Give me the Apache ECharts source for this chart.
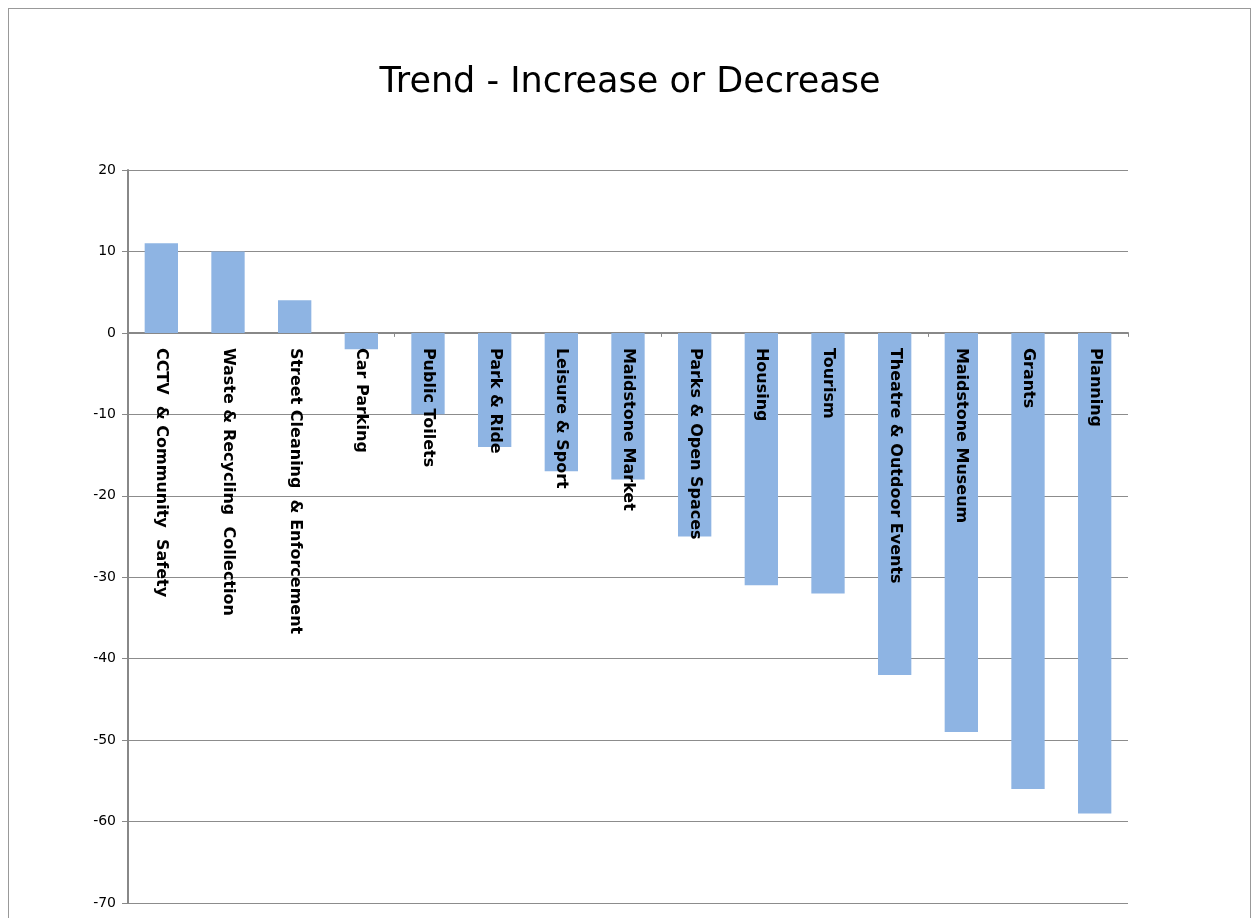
<!DOCTYPE html>
<html>
<head>
<meta charset="utf-8">
<script src="https://cdn.jsdelivr.net/npm/echarts@6/dist/echarts.min.js"></script>
<style>
  html, body { margin: 0; padding: 0; background: #fff; }
  #frame { position: absolute; left: 8px; top: 8px; width: 1243px; height: 920px;
           border: 1px solid #999; border-bottom: none; box-sizing: border-box; }
  #chart { position: absolute; left: 0; top: 0; width: 1260px; height: 918px; }
</style>
</head>
<body>
<div id="frame"></div>
<div id="chart"></div>
<script>
// services and their trend values
const services = [
    'CCTV  & Community  Safety', 'Waste & Recycling  Collection', 'Street Cleaning  & Enforcement',
    'Car Parking', 'Public Toilets', 'Park & Ride', 'Leisure & Sport', 'Maidstone Market',
    'Parks & Open Spaces', 'Housing', 'Tourism', 'Theatre & Outdoor Events',
    'Maidstone Museum', 'Grants', 'Planning'
];
const trendValues = [11, 10, 4, -2, -10, -14, -17, -18, -25, -31, -32, -42, -49, -56, -59];
const yMin = -70, yMax = 20, yStep = 10;

let chart = echarts.init(document.getElementById('chart'));
chart.setOption({
    animation: false,
    title: {
        text: 'Trend - Increase or Decrease',
        left: 'center',
        top: 60,
        textStyle: { fontFamily: 'DejaVu Sans', fontWeight: 'normal', fontSize: 35, color: '#000' }
    },
    grid: { left: 128, right: 132, top: 170, bottom: 15, outerBoundsMode: 'none', containLabel: false },
    xAxis: {
        type: 'category',
        data: services,
        axisLine: { onZero: true, lineStyle: { color: '#888', width: 2 } },
        axisTick: { show: true, length: 4, lineStyle: { color: '#888' } },
        axisLabel: { show: false }
    },
    yAxis: {
        type: 'value',
        min: yMin,
        max: yMax,
        interval: yStep,
        axisLine: { show: true, lineStyle: { color: '#888', width: 2 } },
        axisTick: { show: true, length: 6, lineStyle: { color: '#888' } },
        axisLabel: { color: '#000', fontFamily: 'DejaVu Sans', fontSize: 14, margin: 12 },
        splitLine: { lineStyle: { color: '#8c8c8c', width: 1 } }
    },
    series: [{
        type: 'bar',
        data: trendValues,
        barWidth: '50%',
        z: 2,
        itemStyle: { color: '#8EB4E3' }
    }, {
        // category names hung from the zero line
        type: 'scatter',
        data: services.map(() => 0),
        symbolSize: 0,
        silent: true,
        z: 5,
        itemStyle: { opacity: 1 },
        label: {
            show: true,
            formatter: p => p.name,
            position: 'bottom',
            distance: 15,
            rotate: -90,
            align: 'left',
            verticalAlign: 'middle',
            color: '#000',
            opacity: 1,
            fontFamily: 'DejaVu Sans',
            fontWeight: 'bold',
            fontSize: 16
        }
    }]
});
</script>
</body>
</html>
